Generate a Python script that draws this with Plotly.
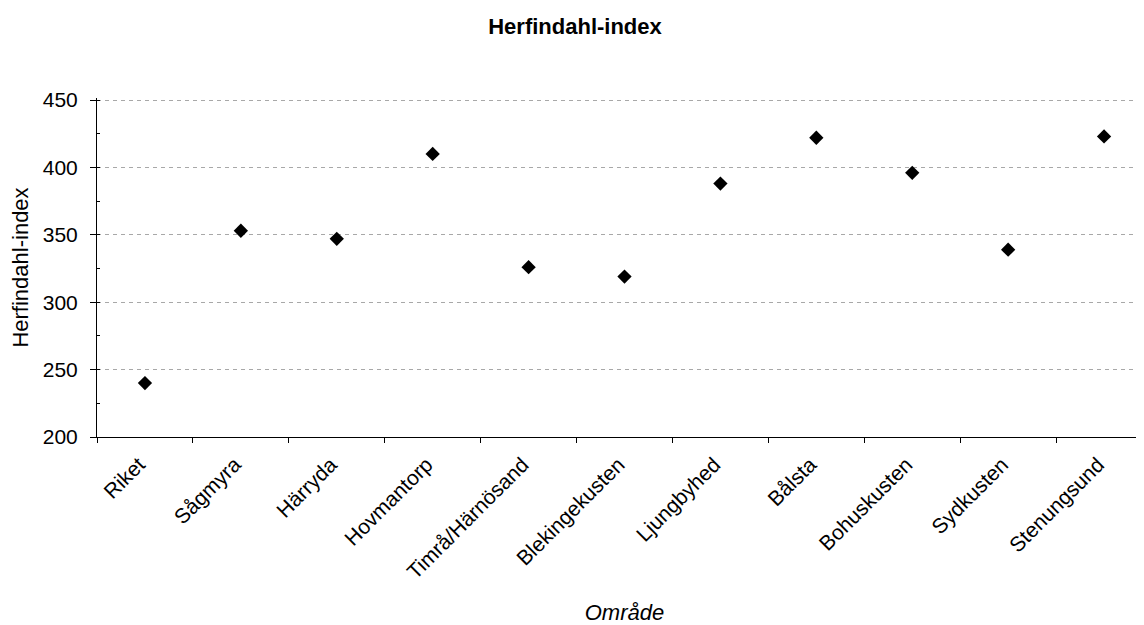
import plotly.graph_objects as go

categories = ["Riket", "Sågmyra", "Härryda", "Hovmantorp", "Timrå/Härnösand",
              "Blekingekusten", "Ljungbyhed", "Bålsta", "Bohuskusten", "Sydkusten",
              "Stenungsund"]
values = [240, 353, 347, 410, 326, 319, 388, 422, 396, 339, 423]

fig = go.Figure()
fig.add_trace(go.Scatter(
    x=categories, y=values, mode="markers",
    marker=dict(symbol="diamond", size=11, color="black"),
    showlegend=False,
))

font = "Liberation Sans, Arial, sans-serif"
fig.update_layout(
    width=1144, height=625,
    paper_bgcolor="white", plot_bgcolor="white",
    margin=dict(l=89, r=0, t=90, b=196, autoexpand=False),
    title=dict(text="<b>Herfindahl-index</b>", x=567 / 1144, xanchor="center",
               xref="container",
               y=1 - 18 / 625, yanchor="middle",
               font=dict(family=font, size=22, color="black")),
    font=dict(family=font, size=21, color="black"),
)
fig.update_xaxes(
    type="category", range=[-0.5, 10.5], automargin=False,
    showline=True, linecolor="black", linewidth=1,
    ticks="outside", ticklen=5, tickcolor="black", tickson="boundaries",
    tickangle=-45, showgrid=False,
    ticklabelstandoff=6, ticklabelshift=-6,
    tickfont=dict(family=font, size=21, color="black"),
    title=dict(text="<i>Område</i>", font=dict(family=font, size=22, color="black"), standoff=22),
)
fig.update_yaxes(
    range=[200, 451.48], tick0=200, dtick=50, automargin=False,
    showline=True, linecolor="black", linewidth=1,
    ticks="outside", ticklen=6, tickcolor="black",
    ticklabelstandoff=8,
    minor=dict(dtick=25, tick0=200, ticks="inside", ticklen=3, tickcolor="black", showgrid=False),
    showgrid=True, gridcolor="#a8a8a8", griddash="4px,4px", gridwidth=1,
    zeroline=False,
    tickfont=dict(family=font, size=21, color="black"),
    title=dict(text="Herfindahl-index", font=dict(family=font, size=22, color="black"), standoff=18),
)
fig.write_html("out.html")
